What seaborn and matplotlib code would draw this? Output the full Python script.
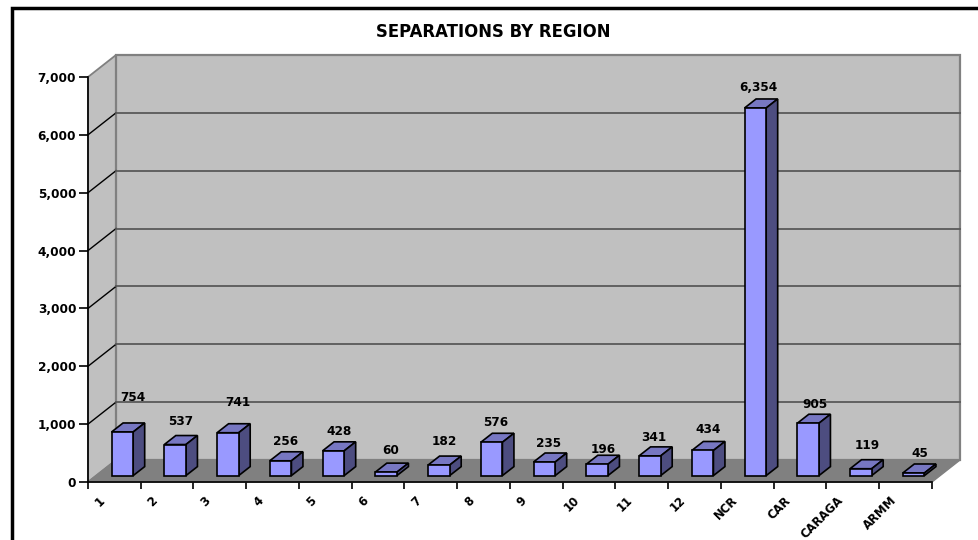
import matplotlib
matplotlib.use("Agg")
import matplotlib.pyplot as plt
from matplotlib.patches import Polygon, Rectangle
from matplotlib.transforms import ScaledTranslation
import pandas as pd
import seaborn as sns

# ---- data ----
regions = ["1", "2", "3", "4", "5", "6", "7", "8", "9", "10", "11", "12",
           "NCR", "CAR", "CARAGA", "ARMM"]
separations = [754, 537, 741, 256, 428, 60, 182, 576, 235, 196, 341, 434,
               6354, 905, 119, 45]
value_ticks = [0, 1000, 2000, 3000, 4000, 5000, 6000, 7000]
title_text = "SEPARATIONS BY REGION"

# ---- label nudges in pixels (right, up) from the bar's front-top centre ----
label_dx = [10.6, 6, 10, 5.3, 5.6, 5, 5, 4.3, 4.6, 5.8, 4, 5.3, 2.6, 6.8, 6, 6.3]
label_dy = [34, 22.6, 30, 19, 19, 22, 24, 20, 19, 15, 18, 21, 20, 19, 23, 19]

W, H, DPI = 979, 540, 100
PX = 72 / DPI
plt.rcParams["font.family"] = ["DejaVu Sans"]
plt.rcParams["font.weight"] = "bold"

fig = plt.figure(figsize=(W / DPI, H / DPI), dpi=DPI, facecolor="white")
LEFT, RIGHT, BOTTOM, TOP = 88, 932, 482, 77
ax = fig.add_axes([LEFT / W, 1 - BOTTOM / H, (RIGHT - LEFT) / W, (BOTTOM - TOP) / H])
ax.patch.set_visible(False)

df = pd.DataFrame({"region": regions, "separations": separations})
sns.barplot(data=df, x="region", y="separations", ax=ax, color="#9999FF",
            saturation=1, width=0.41, edgecolor="black", linewidth=1.2, zorder=5)
ax.set_xlim(-0.5, len(regions) - 0.5)
ax.set_ylim(0, value_ticks[-1])
ax.set_xlabel("")
ax.set_ylabel("")

# scale factors between pixels and data
px_x = (len(regions)) / (RIGHT - LEFT)
px_y = value_ticks[-1] / (BOTTOM - TOP)
dep_x, dep_y = 28 * px_x, 22 * px_y          # whole chart depth
xl, xr = ax.get_xlim()
ymax = value_ticks[-1]

# walls and floor
wall = dict(clip_on=False, joinstyle="miter")
ax.add_patch(Polygon([(xl, 0), (xl + dep_x, dep_y), (xl + dep_x, ymax + dep_y), (xl, ymax)],
                     fc="#C0C0C0", ec="#808080", lw=1.3, zorder=1, **wall))
ax.add_patch(Rectangle((xl + dep_x, dep_y), xr - xl, ymax, fc="#C0C0C0", ec="#808080",
                       lw=1.6, zorder=1, clip_on=False))
ax.add_patch(Polygon([(xl, 0), (xr, 0), (xr + dep_x, dep_y), (xl + dep_x, dep_y)],
                     fc="#808080", ec="#808080", lw=1, zorder=2, **wall))

# grid lines on the side and back wall
for v in value_ticks[1:-1]:
    ax.plot([xl, xl + dep_x], [v, v + dep_y], color="black", lw=1, zorder=3, clip_on=False)
    ax.plot([xl + dep_x, xr + dep_x], [v + dep_y, v + dep_y], color="#5A5A5A", lw=1.3,
            zorder=3, clip_on=False)

# 3-D boxes built from the bars that seaborn drew
off_x, off_y = 8 * px_x, 6.4 * px_y
bar_dx, bar_dy = 11.5 * px_x, 9 * px_y
for bar, value, name, ddx, ddy in zip(list(ax.patches)[:len(regions)], separations, regions,
                                      label_dx, label_dy):
    bar.set_clip_on(False)
    x0 = bar.get_x() + off_x
    w = bar.get_width()
    y0 = off_y
    bar.set_x(x0)
    bar.set_y(y0)
    bar.set_zorder(6)
    top = y0 + value
    ax.add_patch(Polygon([(x0, top), (x0 + w, top), (x0 + w + bar_dx, top + bar_dy),
                          (x0 + bar_dx, top + bar_dy)], fc="#7777C2", ec="black", lw=1.2,
                         zorder=5, **wall))
    ax.add_patch(Polygon([(x0 + w, y0), (x0 + w + bar_dx, y0 + bar_dy),
                          (x0 + w + bar_dx, top + bar_dy), (x0 + w, top)], fc="#4D4D80",
                         ec="black", lw=1.2, zorder=5, **wall))
    ax.annotate(f"{value:,}", xy=(x0 + w / 2, top), xytext=(ddx * PX, ddy * PX),
                textcoords="offset points", ha="center", va="center", fontsize=8.7,
                fontweight="bold", color="black", zorder=8, annotation_clip=False)

# axes lines and ticks
for s in ("top", "right"):
    ax.spines[s].set_visible(False)
for s in ("left", "bottom"):
    ax.spines[s].set_color("black")
    ax.spines[s].set_linewidth(1.2)
    ax.spines[s].set_zorder(7)
ax.set_yticks(value_ticks)
ax.set_yticklabels([f"{v:,}" for v in value_ticks], fontsize=8.7, fontweight="bold")
ax.tick_params(axis="y", length=6.5, width=1.2, color="black", pad=2)
ax.set_xticks(range(len(regions)))
ax.set_xticklabels(regions, rotation=45, ha="right", va="top", rotation_mode="anchor",
                   fontsize=8.4, fontweight="bold")
ax.tick_params(axis="x", which="major", length=0, pad=8.5)
ax.set_xticks([i - 0.5 for i in range(len(regions) + 1)], minor=True)
ax.tick_params(axis="x", which="minor", length=5, width=1.2, color="black")
shift = ScaledTranslation(-16 / DPI, 0, fig.dpi_scale_trans)
for lab in ax.get_xticklabels():
    lab.set_transform(lab.get_transform() + shift)

fig.text(493 / W, 1 - 32 / H, title_text, ha="center", va="center", fontsize=11.9,
         fontweight="bold", color="black")

# outer frame
fig.add_artist(Rectangle((11.7 / W, -0.02), 1.2, 1 - 7.7 / H + 0.02, transform=fig.transFigure,
                         fc="none", ec="black", lw=2.5))

fig.savefig("out.png", dpi=DPI, facecolor="white")
